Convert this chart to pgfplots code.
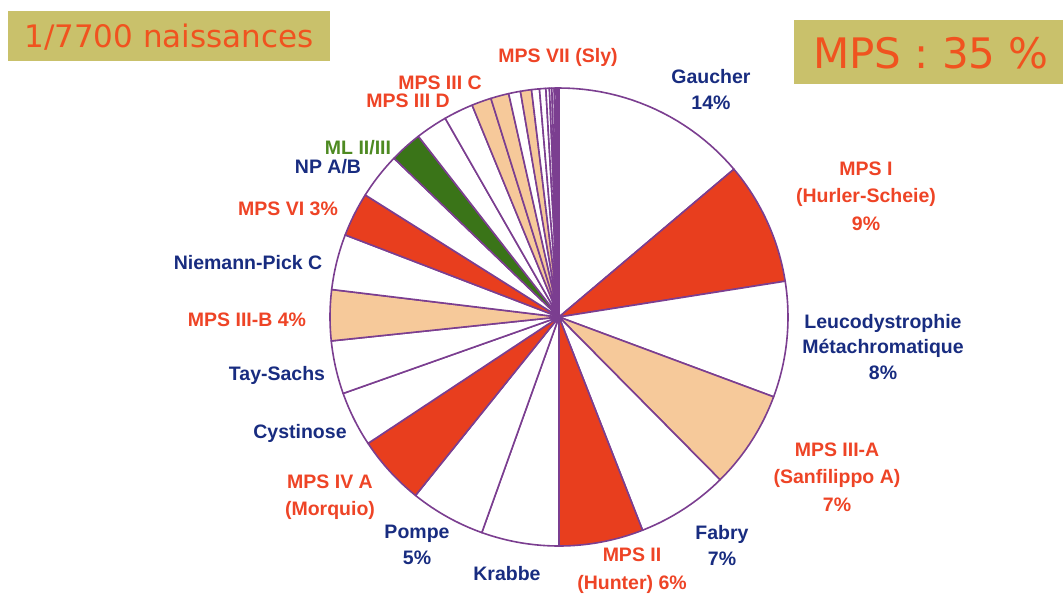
\documentclass[border=0pt]{standalone}
\usepackage{pgfplots}
\pgfplotsset{compat=1.18}
\usepackage{fontspec}
\setmainfont{Liberation Sans}
\newfontfamily\titlefont{DejaVu Sans}
\definecolor{pred}{HTML}{E83E1E}
\definecolor{ppeach}{HTML}{F6C99A}
\definecolor{pgreen}{HTML}{3A7418}
\definecolor{pline}{HTML}{7B3E90}
\definecolor{tred}{HTML}{EE4426}
\definecolor{tblue}{HTML}{182C80}
\definecolor{tgreen}{HTML}{4E8A22}
\definecolor{boxc}{HTML}{C9C16B}
\definecolor{ttitle}{HTML}{F0531F}
\tikzset{
  lab/.style={font=\fontsize{19.5}{25.5}\selectfont\bfseries, align=center, inner sep=0pt},
}
\begin{document}
\begin{tikzpicture}
\begin{axis}[scale only axis, width=1063pt, height=595pt,
  xmin=0, xmax=1063, ymin=0, ymax=595, y dir=reverse,
  hide axis, clip=false]
\path (axis cs:0,0) rectangle (axis cs:1063,595);
% slices: start angle / end angle (degrees clockwise from 12 o'clock) / colour
\foreach \s/\e/\col in {
  0/49.8/white,      % Gaucher 14%
  49.8/81.0/pred,    % MPS I 9%
  81.0/110.4/white,  % Leucodystrophie 8%
  110.4/135.3/ppeach,% MPS III-A 7%
  135.3/158.6/white, % Fabry 7%
  158.6/180.0/pred,  % MPS II 6%
  180.0/199.7/white, % Krabbe
  199.7/218.8/white, % Pompe 5%
  218.8/236.5/pred,  % MPS IV A
  236.5/250.5/white, % Cystinose
  250.5/264.0/white, % Tay-Sachs
  264.0/276.9/ppeach,% MPS III-B 4%
  276.9/291.0/white, % Niemann-Pick C
  291.0/302.2/pred,  % MPS VI 3%
  302.2/313.9/white, % NP A/B
  313.9/322.1/pgreen,% ML II/III
  322.1/330.2/white,
  330.2/337.7/white,
  337.7/342.7/ppeach,% MPS III D
  342.7/347.3/ppeach,% MPS III C
  347.3/350.3/white,
  350.3/353.1/ppeach,% MPS VII
  353.1/355.1/white,
  355.1/356.7/white,
  356.7/357.6/white,
  357.6/358.2/white,
  358.2/358.8/white,
  358.8/359.3/white,
  359.3/359.7/white,
  359.7/360.0/white}{
  \edef\tmp{\noexpand\addplot[fill=\col, draw=pline, line width=1.6pt, line join=round,
    domain=\s:\e, samples=25]
    ({559+229*sin(x)},{317-229*cos(x)}) -- (axis cs:559,317) -- cycle;}
  \tmp
}
% title boxes
\fill[boxc] (axis cs:8,11) rectangle (axis cs:330,61);
\node[font=\titlefont\fontsize{31}{31}\selectfont, text=ttitle, inner sep=0pt]
  at (axis cs:169,37) {1/7700 naissances};
\fill[boxc] (axis cs:794,20) rectangle (axis cs:1063,84);
\node[font=\titlefont\fontsize{42}{42}\selectfont, text=ttitle, inner sep=0pt]
  at (axis cs:931,53) {MPS : 35 \%};
% labels
\node[lab, text=tblue] at (axis cs:711,89.5) {Gaucher\\14\%};
\node[lab, text=tred, font=\fontsize{19.5}{27.5}\selectfont\bfseries] at (axis cs:866,196) {MPS I\\(Hurler-Scheie)\\9\%};
\node[lab, text=tblue] at (axis cs:883,347) {Leucodystrophie\\Métachromatique\\8\%};
\node[lab, text=tred, font=\fontsize{19.5}{27.5}\selectfont\bfseries] at (axis cs:837,477) {MPS III-A\\(Sanfilippo A)\\7\%};
\node[lab, text=tblue] at (axis cs:722,545.5) {Fabry\\7\%};
\node[lab, text=tred, font=\fontsize{19.5}{28}\selectfont\bfseries] at (axis cs:632,571) {MPS II\\(Hunter) 6\%};
\node[lab, text=tblue] at (axis cs:507,574) {Krabbe};
\node[lab, text=tblue] at (axis cs:417,545) {Pompe\\5\%};
\node[lab, text=tred, font=\fontsize{19.5}{27}\selectfont\bfseries] at (axis cs:330,497) {MPS IV A\\(Morquio)};
\node[lab, text=tblue] at (axis cs:300,433) {Cystinose};
\node[lab, text=tblue] at (axis cs:277,375) {Tay-Sachs};
\node[lab, text=tred] at (axis cs:247,320) {MPS III-B 4\%};
\node[lab, text=tblue] at (axis cs:248,263) {Niemann-Pick C};
\node[lab, text=tred] at (axis cs:288,209) {MPS VI 3\%};
\node[lab, text=tblue] at (axis cs:328,167) {NP A/B};
\node[lab, text=tgreen] at (axis cs:358,148) {ML II/III};
\node[lab, text=tred] at (axis cs:408,101) {MPS III D};
\node[lab, text=tred] at (axis cs:440,83) {MPS III C};
\node[lab, text=tred] at (axis cs:558,57) {MPS VII (Sly)};
\end{axis}
\end{tikzpicture}
\end{document}
